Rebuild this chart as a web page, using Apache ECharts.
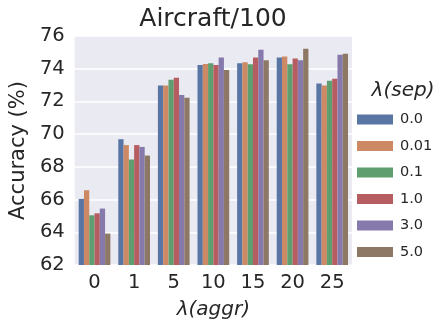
<!DOCTYPE html>
<html><head><meta charset="utf-8">
<script src="https://cdn.jsdelivr.net/npm/echarts@6/dist/echarts.min.js"></script>
<style>html,body{margin:0;padding:0;background:#fff}#c{width:435px;height:325px}</style>
</head><body><div id="c"></div>
<script>
const categories = ['0','1','5','10','15','20','25'];
const seriesNames = ['0.0','0.01','0.1','1.0','3.0','5.0'];
const s00  = [66.04, 69.69, 72.98, 74.22, 74.33, 74.69, 73.10];
const s001 = [66.57, 69.33, 72.98, 74.29, 74.39, 74.75, 72.98];
const s01  = [65.04, 68.45, 73.33, 74.33, 74.27, 74.27, 73.27];
const s10  = [65.16, 69.33, 73.45, 74.22, 74.69, 74.63, 73.39];
const s30  = [65.45, 69.22, 72.39, 74.69, 75.16, 74.51, 74.86];
const s50  = [63.92, 68.69, 72.22, 73.92, 74.51, 75.22, 74.92];
const colors = ['#5975a4','#cc8963','#5f9e6e','#b55d60','#857aab','#8d7866'];
const allData = [s00, s001, s01, s10, s30, s50];
const FONT = 'DejaVu Sans';
const TXT = '#262626';

const chart = echarts.init(document.getElementById('c'), null, {renderer:'canvas'});
chart.setOption({
  animation:false,
  backgroundColor:'#ffffff',
  textStyle:{fontFamily:FONT,color:TXT},
  title:[
    {text:'Aircraft/100', left:208, top:2, textAlign:'center',
     textStyle:{fontFamily:FONT,fontSize:25,fontWeight:'normal',color:TXT}},
    {text:'λ(sep)', left:398, top:76, textAlign:'center',
     textStyle:{fontFamily:FONT,fontSize:20,fontStyle:'italic',fontWeight:'normal',color:TXT}}
  ],
  legend:{
    orient:'vertical', left:352, top:107, itemWidth:36, itemHeight:10, itemGap:11.5,
    icon:'rect', data:seriesNames,
    textStyle:{fontFamily:FONT,fontSize:14.5,color:TXT,lineHeight:14,padding:[0,0,0,2]}
  },
  grid:{left:65,right:83,top:36,bottom:53,show:true,backgroundColor:'#EAEAF2',borderWidth:0},
  xAxis:{
    type:'category', data:categories,
    axisLine:{show:false}, axisTick:{show:false},
    axisLabel:{fontFamily:FONT,fontSize:19.5,color:TXT,margin:8},
    name:'λ(aggr)', nameLocation:'middle', nameGap:35,
    nameTextStyle:{fontFamily:FONT,fontSize:20,fontStyle:'italic',color:TXT}
  },
  yAxis:{
    type:'value', min:62, max:76, interval:2,
    axisLine:{show:false}, axisTick:{show:false},
    splitLine:{lineStyle:{color:'#ffffff',width:1.5}},
    axisLabel:{fontFamily:FONT,fontSize:19.5,color:TXT,margin:10},
    name:'Accuracy (%)', nameLocation:'middle', nameGap:38,
    nameTextStyle:{fontFamily:FONT,fontSize:21,color:TXT}
  },
  series: seriesNames.map((n,i)=>({
    name:n, type:'bar', data:allData[i], barGap:'0%', barCategoryGap:'20%',
    itemStyle:{color:colors[i]}
  }))
});
</script></body></html>
